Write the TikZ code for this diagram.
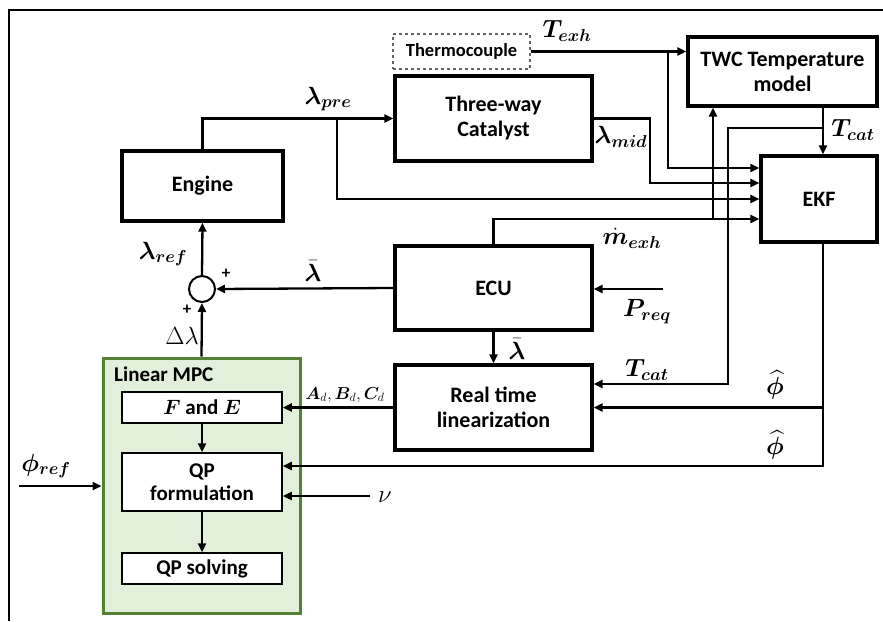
\documentclass[tikz,border=0pt]{standalone}
\usepackage{amsmath,bm}
\usepackage{fontspec}
\setmainfont{Carlito}
\usetikzlibrary{arrows.meta,positioning,calc}
\definecolor{cmpcfill}{HTML}{E2EFDA}
\definecolor{cmpcline}{HTML}{548235}
\tikzset{
  blk/.style={draw, line width=3.4pt, align=center, font=\bfseries\fontsize{22}{25}\selectfont, inner sep=2pt},
  sub/.style={draw, fill=white, line width=1.5pt, minimum width=160pt, align=center, font=\bfseries\fontsize{21}{23}\selectfont, inner sep=1pt},
  lab/.style={font=\fontsize{24}{26}\selectfont, inner sep=0pt},
  sig/.style={line width=2.3pt},
}
\begin{document}
\begin{tikzpicture}[x=1pt, y=-1pt, >={Triangle[length=9pt,width=8pt]}]
\useasboundingbox (0,0) rectangle (883,621);
% frame
\draw[line width=2.6pt] (883,10) -- (9,10) -- (9,621);
% blocks
\node[draw=black!60, dashed, line width=1.3pt, minimum width=137pt, minimum height=35pt, font=\bfseries\fontsize{18.5}{20}\selectfont] (thermo) at (461.5,51.5) {Thermocouple};
\node[blk, minimum width=197pt, minimum height=85pt] (twc) at (493.5,118.5) {Three-way\\ Catalyst};
\node[blk, minimum width=189pt, minimum height=69pt] (tmod) at (782.5,71.5) {TWC Temperature\\ model};
\node[blk, minimum width=116pt, minimum height=86pt] (ekf) at (819,199) {EKF};
\node[blk, minimum width=161pt, minimum height=70pt] (engine) at (202.5,186) {Engine};
\node[blk, minimum width=197pt, minimum height=84pt] (ecu) at (493.5,288) {ECU};
\node[blk, minimum width=197pt, minimum height=85pt] (rtl) at (493.5,407.5) {Real time\\ linearization};
\node[draw, circle, line width=2pt, minimum size=26pt, inner sep=0pt] (sum) at (202,289) {};
% linear MPC
\node[draw=cmpcline, fill=cmpcfill, line width=3pt, minimum width=197pt, minimum height=255pt] (mpc) at (201.5,485.5) {};
\node[anchor=west, font=\bfseries\fontsize{21}{23}\selectfont, inner sep=0pt] (mpclab) at (114,374) {Linear MPC};
\node[sub, minimum height=31pt] (fe) at (202,407.5) {$\bm{F}$ and $\bm{E}$};
\node[sub, minimum height=58pt] (qpf) at (202,482) {QP\\ formulation};
\node[sub, minimum height=31pt] (qps) at (202,568.5) {QP solving};
% helper points
\coordinate (lp) at (337,118.5);
\coordinate (lm) at (650,118.5);
\coordinate (tx) at (668,51.5);
\coordinate (mx) at (713,219);
\coordinate (tc) at (823,128);
\coordinate (tr) at (728,384);
\coordinate (ph) at (823,466);
\coordinate (pr) at (663,289);
\coordinate (nu) at (370,496);
\coordinate (pref) at (19,486);
% connectors
\draw[sig, ->] (engine.north) |- (twc.west);
\draw[sig, ->] (lp) |- (ekf.west);
\draw[sig, ->] (twc.east |- lm) -- (lm) |- ($(ekf.west)+(0,-16)$);
\draw[sig, ->] (thermo.east) -- (thermo.east -| tmod.west);
\draw[sig, ->] (tx) |- ($(ekf.west)+(0,-31)$);
\draw[sig, ->] (ecu.north) |- ($(ekf.west)+(0,20)$);
\draw[sig, ->] (mx) -- (mx |- tmod.south);
\draw[sig, ->] (tc |- tmod.south) -- (tc |- ekf.north);
\draw[sig, ->] (tc) -| (tr) -- (tr -| rtl.east);
\draw[sig, ->] (tc |- ekf.south) -- (ph) -- (ph -| qpf.east);
\draw[sig, ->] (tc |- rtl.east) -- (rtl.east);
\draw[sig, ->] (pr) -- (pr -| ecu.east);
\draw[sig, ->] (ecu.south) -- (rtl.north);
\draw[sig, ->] (ecu.west) -- (sum.east);
\draw[sig, ->] (mpc.north) -- (sum.south);
\draw[sig, ->] (sum.north) -- (engine.south);
\draw[sig, ->] (rtl.west) -- (fe.east);
\draw[sig, ->] (fe.south) -- (qpf.north);
\draw[sig, ->] (qpf.south) -- (qps.north);
\draw[sig, ->] (nu) -- (nu -| qpf.east);
\draw[sig, ->] (pref) -- (pref -| mpc.west);
% labels
\node[lab] at (328,99) {$\bm{\lambda_{pre}}$};
\node[lab] at (567,31) {$\bm{T_{exh}}$};
\node[lab] at (621,137) {$\bm{\lambda_{mid}}$};
\node[lab] at (853,130) {$\bm{T_{cat}}$};
\node[lab] at (632,238) {$\bm{\dot{m}_{exh}}$};
\node[lab] at (647,312) {$\bm{P_{req}}$};
\node[lab] at (517,349) {$\bm{\bar{\lambda}}$};
\node[lab] at (647,370) {$\bm{T_{cat}}$};
\node[lab] at (775,385) {$\bm{\widehat{\phi}}$};
\node[lab] at (775,445) {$\bm{\widehat{\phi}}$};
\node[lab] at (313,271) {$\bm{\bar{\lambda}}$};
\node[lab, font=\bfseries\fontsize{17}{18}\selectfont] at (226,274) {+};
\node[lab, font=\bfseries\fontsize{17}{18}\selectfont] at (187,310) {+};
\node[lab] at (182,336) {$\Delta\lambda$};
\node[lab] at (163,254) {$\bm{\lambda_{ref}}$};
\node[lab, font=\fontsize{17}{18}\selectfont] at (345,395) {$\bm{A}_d, \bm{B}_d, \bm{C}_d$};
\node[lab] at (385,497) {$\nu$};
\node[lab] at (46,466) {$\bm{\phi_{ref}}$};
\end{tikzpicture}
\end{document}
